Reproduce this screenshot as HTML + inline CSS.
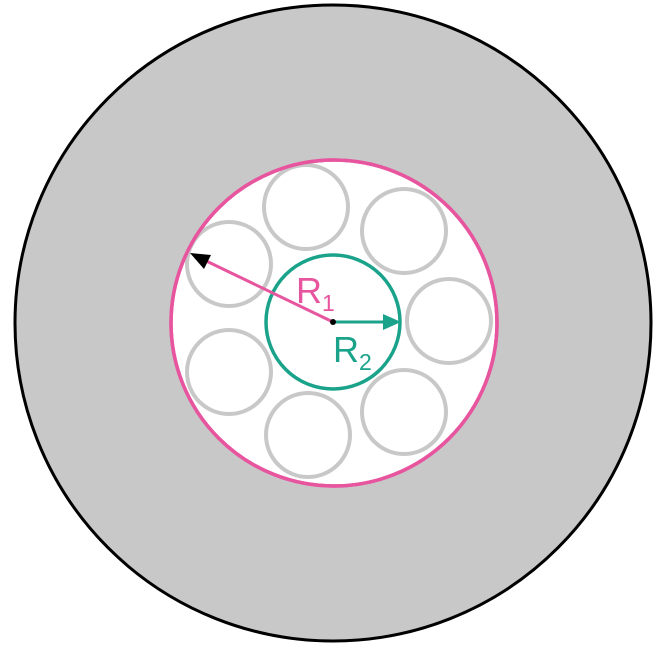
<!DOCTYPE html>
<html><head><meta charset="utf-8"><style>
html,body{margin:0;padding:0;background:#fff;}
svg{display:block;}
text{font-family:"Liberation Sans",sans-serif;}
</style></head><body>
<svg width="655" height="655" viewBox="0 0 655 655">
  <circle cx="333" cy="323" r="318" fill="#c8c8c8" stroke="#000" stroke-width="3"/>
  <circle cx="334" cy="323" r="163" fill="#fff" stroke="#e8559f" stroke-width="3.5"/>
  <g fill="#fff" stroke="#c8c8c8" stroke-width="4">
    <circle cx="306" cy="207" r="42"/>
    <circle cx="404" cy="231" r="42"/>
    <circle cx="449" cy="321" r="42"/>
    <circle cx="404" cy="412" r="42"/>
    <circle cx="308" cy="435" r="42"/>
    <circle cx="229" cy="372" r="42"/>
    <circle cx="229" cy="264" r="42"/>
  </g>
  <circle cx="334" cy="323" r="163" fill="none" stroke="#e8559f" stroke-width="3.5"/>
  <circle cx="333" cy="322" r="67" fill="none" stroke="#1aa38a" stroke-width="3.5"/>
  <line x1="333" y1="322" x2="200" y2="258" stroke="#e8559f" stroke-width="3"/>
  <polygon points="190,253 211,255 204,269" fill="#000"/>
  <line x1="333" y1="322" x2="386" y2="322" stroke="#1aa38a" stroke-width="3"/>
  <polygon points="401,322 383,314 383,330" fill="#1aa38a"/>
  <circle cx="333" cy="322" r="3" fill="#000"/>
  <text x="296" y="303" font-size="36" fill="#e8559f">R<tspan font-size="23" dy="8">1</tspan></text>
  <text x="333" y="362" font-size="36" fill="#1aa38a">R<tspan font-size="23" dy="8">2</tspan></text>
</svg>
</body></html>
